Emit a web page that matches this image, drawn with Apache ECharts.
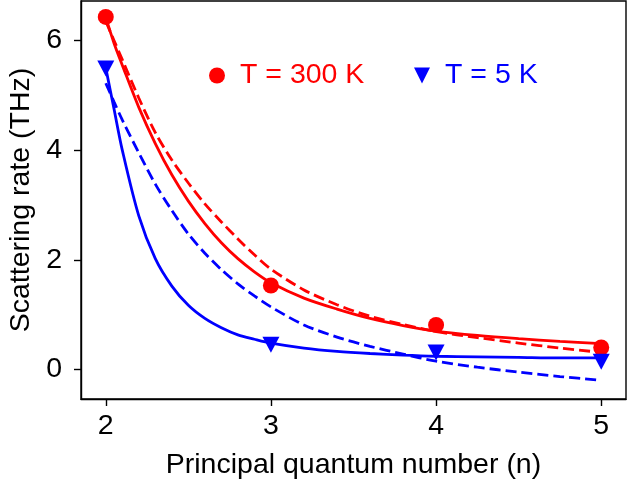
<!DOCTYPE html>
<html>
<head>
<meta charset="utf-8">
<script src="https://cdn.jsdelivr.net/npm/echarts@6/dist/echarts.min.js"></script>
<style>
  html, body { margin: 0; padding: 0; background: #fff; }
  #chart { width: 627px; height: 485px; }
</style>
</head>
<body>
<div id="chart"></div>
<script>
// Measured scattering rates per principal quantum number
const nValues = [2, 3, 4, 5];
const rate300K = [6.43, 1.53, 0.81, 0.40];
const rate5K = [5.49, 0.45, 0.31, 0.14];

// Fit curves sampled along n
const fitN = [2.0, 2.05, 2.1, 2.2, 2.3, 2.4, 2.5, 2.6, 2.7, 2.8, 2.9, 3.0, 3.2, 3.4, 3.6, 3.8, 4.0, 4.25, 4.5, 4.75, 5.0];
const fit300KSolid = [6.42, 5.95, 5.55, 4.78, 4.12, 3.55, 3.07, 2.66, 2.31, 2.02, 1.78, 1.58, 1.30, 1.10, 0.93, 0.80, 0.70, 0.62, 0.56, 0.51, 0.47];
const fit300KDashed = [6.35, 6.00, 5.65, 4.95, 4.32, 3.82, 3.40, 3.02, 2.69, 2.38, 2.09, 1.83, 1.45, 1.18, 0.97, 0.82, 0.69, 0.58, 0.48, 0.39, 0.31];
const fit5KSolid = [5.50, 4.75, 4.00, 2.80, 2.02, 1.52, 1.17, 0.93, 0.76, 0.63, 0.55, 0.48, 0.39, 0.33, 0.29, 0.26, 0.24, 0.23, 0.22, 0.21, 0.21];
const fit5KDashed = [5.22, 4.88, 4.55, 3.95, 3.38, 2.90, 2.47, 2.12, 1.82, 1.56, 1.34, 1.14, 0.81, 0.59, 0.42, 0.28, 0.15, 0.04, -0.05, -0.13, -0.20];

// Tick labels
const xTicks = [2, 3, 4, 5];
const yTicks = [0, 2, 4, 6];

const RED = '#ff0000';
const BLUE = '#0000ff';
const FONT = "'Liberation Sans', Arial, Helvetica, sans-serif";
const FS = 28.5;
const TRI_DOWN = 'path://M0,0 L10,0 L5,10 Z';

const pairs = (xs, ys) => xs.map((x, i) => [x, ys[i]]);

function fitLine(name, xs, ys, color, dashed) {
  return {
    name: name,
    type: 'line',
    data: pairs(xs, ys),
    showSymbol: false,
    symbol: 'none',
    smooth: 0.3,
    silent: true,
    z: 2,
    lineStyle: { color: color, width: 2.8, type: dashed ? [11, 5] : 'solid', cap: 'butt' },
    itemStyle: { color: color }
  };
}

const chart = echarts.init(document.getElementById('chart'), null, { renderer: 'canvas' });

chart.setOption({
  backgroundColor: '#ffffff',
  animation: false,
  textStyle: { fontFamily: FONT },
  grid: {
    left: 81, right: 1, top: 1, bottom: 86,
    show: true, borderColor: '#000', borderWidth: 1.4,
    outerBoundsMode: 'none'
  },
  legend: [
    {
      left: 209, top: 61, padding: 0,
      itemWidth: 36, itemHeight: 16, symbolKeepAspect: true,
      textStyle: { fontSize: FS, fontFamily: FONT, color: RED },
      data: [{ name: 'T = 300 K', icon: 'circle', itemStyle: { color: RED } }],
      selectedMode: false
    },
    {
      left: 414, top: 61, padding: 0,
      itemWidth: 36, itemHeight: 16, symbolKeepAspect: true,
      textStyle: { fontSize: FS, fontFamily: FONT, color: BLUE },
      data: [{ name: 'T = 5 K', icon: TRI_DOWN, itemStyle: { color: BLUE } }],
      selectedMode: false
    }
  ],
  xAxis: {
    type: 'value',
    min: 1.85, max: 5.15,
    name: 'Principal quantum number (n)',
    nameLocation: 'middle',
    nameGap: 52,
    nameTextStyle: { fontSize: FS, fontFamily: FONT, color: '#000' },
    axisLine: { show: true, onZero: false, lineStyle: { color: '#000', width: 1.4 } },
    axisTick: { show: true, length: 7, lineStyle: { color: '#000', width: 1.4 }, customValues: xTicks },
    axisLabel: { fontSize: FS, fontFamily: FONT, color: '#000', margin: 13, customValues: xTicks },
    splitLine: { show: false }
  },
  yAxis: {
    type: 'value',
    min: -0.54, max: 6.72,
    name: 'Scattering rate (THz)',
    nameLocation: 'middle',
    nameGap: 42,
    nameTextStyle: { fontSize: FS, fontFamily: FONT, color: '#000' },
    axisLine: { show: true, onZero: false, lineStyle: { color: '#000', width: 1.4 } },
    axisTick: { show: true, length: 7, lineStyle: { color: '#000', width: 1.4 }, customValues: yTicks },
    axisLabel: { fontSize: FS, fontFamily: FONT, color: '#000', margin: 19, customValues: yTicks },
    splitLine: { show: false }
  },
  series: [
    fitLine('fit 300 K', fitN, fit300KSolid, RED, false),
    fitLine('model 300 K', fitN, fit300KDashed, RED, true),
    fitLine('fit 5 K', fitN, fit5KSolid, BLUE, false),
    fitLine('model 5 K', fitN, fit5KDashed, BLUE, true),
    {
      name: 'T = 300 K',
      type: 'scatter',
      data: pairs(nValues, rate300K),
      symbol: 'circle',
      symbolSize: 16,
      z: 5,
      itemStyle: { color: RED, opacity: 1 }
    },
    {
      name: 'T = 5 K',
      type: 'scatter',
      data: pairs(nValues, rate5K),
      symbol: TRI_DOWN,
      symbolSize: [17, 16],
      z: 5,
      itemStyle: { color: BLUE, opacity: 1 }
    }
  ]
});
</script>
</body>
</html>
